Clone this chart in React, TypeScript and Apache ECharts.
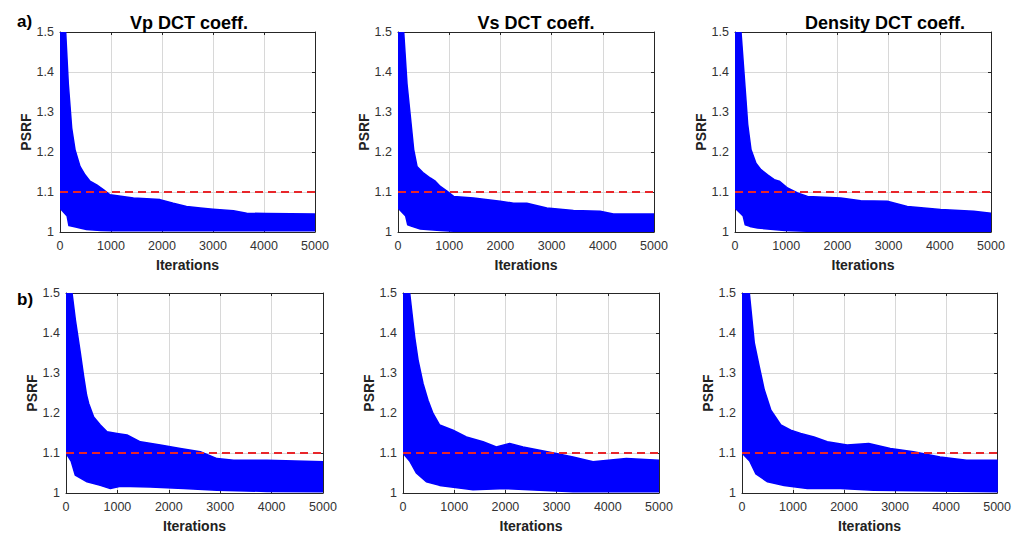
import React, { useEffect, useRef } from 'react';
import * as echarts from 'echarts';

type Pt = [number, number];

const panelTitles = ['Vp DCT coeff.', 'Vs DCT coeff.', 'Density DCT coeff.'];
const rowLabels = ['a)', 'b)'];
const xMin = 0;
const xMax = 5000;
const xStep = 1000;
const yMin = 1;
const yMax = 1.5;
const yStep = 0.1;
const threshold = 1.1;

// Envelope of the PSRF traces (upper / lower edge of the blue bundle)
const vpUpperA: Pt[] = [[0, 1.5], [111, 1.5], [163, 1.37], [229, 1.26], [294, 1.206], [392, 1.164], [490, 1.143], [588, 1.127], [719, 1.118], [850, 1.106], [980, 1.093], [1440, 1.085], [1960, 1.081], [2220, 1.072], [2480, 1.064], [2750, 1.06], [3000, 1.057], [3400, 1.053], [3660, 1.047], [4050, 1.046], [5000, 1.045]];
const vpLowerA: Pt[] = [[0, 1.06], [140, 1.04], [175, 1.016], [330, 1.012], [390, 1.01], [520, 1.006], [800, 1.004], [1000, 1.003], [5000, 1.003]];
const vsUpperA: Pt[] = [[0, 1.5], [111, 1.5], [176, 1.37], [240, 1.29], [306, 1.206], [371, 1.164], [500, 1.147], [630, 1.135], [728, 1.127], [826, 1.114], [956, 1.102], [1086, 1.089], [1476, 1.085], [1996, 1.077], [2256, 1.072], [2516, 1.072], [2906, 1.06], [3427, 1.054], [3947, 1.052], [4207, 1.045], [5000, 1.045]];
const vsLowerA: Pt[] = [[0, 1.06], [150, 1.04], [190, 1.018], [273, 1.014], [436, 1.0075], [826, 1.004], [1086, 1.002], [5000, 1.002]];
const rhoUpperA: Pt[] = [[0, 1.5], [117, 1.5], [214, 1.33], [247, 1.27], [312, 1.206], [409, 1.172], [506, 1.156], [636, 1.143], [766, 1.131], [864, 1.127], [1026, 1.11], [1221, 1.0975], [1416, 1.089], [2065, 1.085], [2455, 1.078], [2974, 1.077], [3364, 1.064], [4013, 1.056], [4662, 1.052], [5000, 1.047]];
const rhoLowerA: Pt[] = [[0, 1.06], [160, 1.04], [200, 1.018], [292, 1.014], [442, 1.01], [974, 1.004], [1400, 1.002], [5000, 1.002]];

const vpUpperB: Pt[] = [[0, 1.5], [117, 1.5], [182, 1.433], [279, 1.35], [344, 1.291], [400, 1.245], [441, 1.224], [538, 1.19], [668, 1.17], [798, 1.153], [992, 1.149], [1187, 1.145], [1446, 1.128], [1835, 1.12], [2224, 1.111], [2613, 1.103], [2938, 1.086], [3262, 1.082], [3911, 1.082], [5000, 1.078]];
const vpLowerB: Pt[] = [[0, 1.1], [100, 1.08], [180, 1.045], [409, 1.028], [668, 1.019], [863, 1.011], [1057, 1.017], [1641, 1.015], [2289, 1.011], [2938, 1.007], [3911, 1.004], [5000, 1.003]];
const vsUpperB: Pt[] = [[0, 1.5], [130, 1.5], [228, 1.39], [293, 1.333], [391, 1.274], [488, 1.232], [586, 1.199], [716, 1.17], [977, 1.157], [1237, 1.14], [1563, 1.128], [1823, 1.115], [2083, 1.124], [2344, 1.115], [2669, 1.107], [2995, 1.099], [3320, 1.09], [3711, 1.078], [4362, 1.086], [5000, 1.082]];
const vsLowerB: Pt[] = [[0, 1.1], [130, 1.08], [260, 1.05], [456, 1.028], [716, 1.019], [1367, 1.008], [2018, 1.011], [2669, 1.007], [3320, 1.003], [5000, 1.003]];
const rhoUpperB: Pt[] = [[0, 1.5], [143, 1.5], [241, 1.375], [338, 1.316], [436, 1.258], [566, 1.207], [761, 1.17], [956, 1.157], [1151, 1.149], [1411, 1.14], [1671, 1.128], [2062, 1.12], [2484, 1.124], [2906, 1.111], [3361, 1.103], [3881, 1.09], [4402, 1.082], [5000, 1.082]];
const rhoLowerB: Pt[] = [[0, 1.1], [150, 1.08], [273, 1.048], [501, 1.028], [826, 1.019], [1281, 1.011], [1931, 1.011], [2581, 1.007], [5000, 1.003]];

const bands = [
  { upper: vpUpperA, lower: vpLowerA },
  { upper: vsUpperA, lower: vsLowerA },
  { upper: rhoUpperA, lower: rhoLowerA },
  { upper: vpUpperB, lower: vpLowerB },
  { upper: vsUpperB, lower: vsLowerB },
  { upper: rhoUpperB, lower: rhoLowerB },
];

const gridRects = [
  { left: 60, top: 32, width: 255, height: 200 },
  { left: 398, top: 32, width: 256, height: 200 },
  { left: 735, top: 32, width: 256, height: 200 },
  { left: 66, top: 293, width: 257, height: 200 },
  { left: 403, top: 293, width: 256, height: 200 },
  { left: 742, top: 293, width: 256, height: 200 },
];
const titleCenters = [184, 531, 880];

const BLUE = '#0000ff';
const RED = '#e8262a';
const FRAME = '#262626';
const FONT = '"Liberation Sans", Arial, Helvetica, sans-serif';

export default function App() {
  const ref = useRef<HTMLDivElement>(null);
  useEffect(() => {
    if (!ref.current) return;
    const chart = echarts.init(ref.current, undefined, { renderer: 'svg' });
    const xAxes: any[] = [];
    const yAxes: any[] = [];
    const series: any[] = [];
    gridRects.forEach((_, i) => {
      const baseX = {
        type: 'value', gridIndex: i, min: xMin, max: xMax, interval: xStep,
        axisLine: { show: true, onZero: false, lineStyle: { color: FRAME, width: 1 } },
        axisTick: { show: true, inside: true, length: 3, lineStyle: { color: FRAME } },
      };
      xAxes.push({
        ...baseX, position: 'bottom',
        axisLabel: { show: true, margin: 7, color: '#333', fontSize: 12.5, fontFamily: FONT, formatter: (v: number) => String(v) },
        splitLine: { show: true, lineStyle: { color: '#d8d8d8', width: 1 } },
        name: 'Iterations', nameLocation: 'middle', nameGap: 26,
        nameTextStyle: { fontWeight: 'bold', fontSize: 14, color: '#222', fontFamily: FONT },
      });
      xAxes.push({ ...baseX, position: 'top', axisLabel: { show: false }, splitLine: { show: false } });
      const baseY = {
        type: 'value', gridIndex: i, min: yMin, max: yMax, interval: yStep,
        axisLine: { show: true, onZero: false, lineStyle: { color: FRAME, width: 1 } },
        axisTick: { show: true, inside: true, length: 3, lineStyle: { color: FRAME } },
      };
      yAxes.push({
        ...baseY, position: 'left',
        axisLabel: {
          show: true, margin: 6, color: '#333', fontSize: 12.5, fontFamily: FONT,
          formatter: (v: number) => String(Number(v.toFixed(1))),
        },
        splitLine: { show: true, lineStyle: { color: '#d8d8d8', width: 1 } },
        name: 'PSRF', nameLocation: 'middle', nameGap: 27, nameRotate: 90,
        nameTextStyle: { fontWeight: 'bold', fontSize: 14, color: '#222', fontFamily: FONT },
      });
      yAxes.push({ ...baseY, position: 'right', axisLabel: { show: false }, splitLine: { show: false } });

      const band = bands[i];
      series.push({
        type: 'custom',
        xAxisIndex: i * 2,
        yAxisIndex: i * 2,
        silent: true,
        clip: true,
        data: [[xMin, yMin]],
        z: 2,
        renderItem: (_p: any, api: any) => {
          const up = band.upper.map((p) => api.coord(p));
          const lo = band.lower.slice().reverse().map((p) => api.coord(p));
          return {
            type: 'polygon',
            shape: { points: up.concat(lo) },
            style: { fill: BLUE, stroke: BLUE, lineWidth: 1.5, lineJoin: 'round' },
          };
        },
      });
      series.push({
        type: 'line',
        xAxisIndex: i * 2,
        yAxisIndex: i * 2,
        data: [[xMin, threshold], [xMax, threshold]],
        symbol: 'none',
        silent: true,
        z: 5,
        lineStyle: { color: RED, width: 2, type: [8, 5] },
      });
    });

    const titles: any[] = panelTitles.map((t, i) => ({
      text: t, left: titleCenters[i], top: 18, textAlign: 'center', textVerticalAlign: 'middle',
      textStyle: { fontSize: 18, fontWeight: 'bold', color: '#000', fontFamily: FONT },
    }));
    rowLabels.forEach((t, r) => {
      titles.push({
        text: t, left: 12, top: r === 0 ? 16 : 294, textAlign: 'left', textVerticalAlign: 'middle',
        textStyle: { fontSize: 17, fontWeight: 'bold', color: '#000', fontFamily: FONT },
      });
    });

    chart.setOption({
      animation: false,
      backgroundColor: '#fff',
      title: titles,
      grid: gridRects.map((g) => ({ ...g, containLabel: false })),
      xAxis: xAxes,
      yAxis: yAxes,
      series,
    });
    return () => chart.dispose();
  }, []);
  return <div ref={ref} style={{ position: 'absolute', left: 0, top: 0, width: 1014, height: 538 }} />;
}
